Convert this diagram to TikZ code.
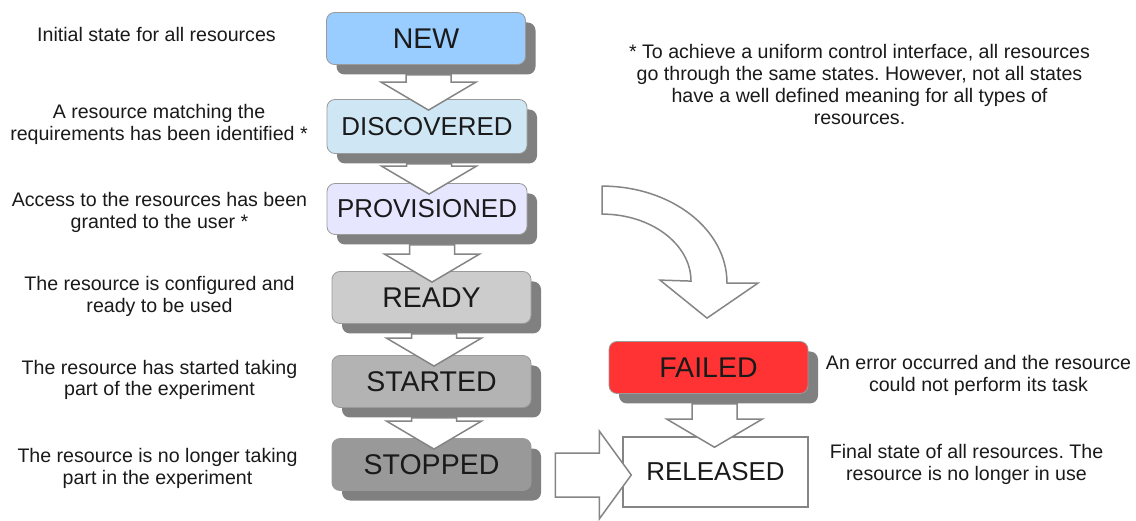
\documentclass[tikz,border=0pt]{standalone}
\usepackage{fontspec}
\setmainfont{Liberation Sans}
\usetikzlibrary{calc,shadows}
\frenchspacing
\definecolor{cNew}{HTML}{99CCFF}
\definecolor{cDisc}{HTML}{CFE7F5}
\definecolor{cProv}{HTML}{E6E6FF}
\definecolor{cReady}{HTML}{CCCCCC}
\definecolor{cStarted}{HTML}{B3B3B3}
\definecolor{cStopped}{HTML}{999999}
\definecolor{cFailed}{HTML}{FF3333}
\definecolor{cShadow}{HTML}{808080}
\definecolor{cBorder}{HTML}{9A9A9A}
\definecolor{cArrow}{HTML}{858585}
\definecolor{cText}{HTML}{1A1A1A}
\newcommand\blockdown[3]{%
  \coordinate (bt) at ($(#2.south)+(#1,10)$);
  \coordinate (bp) at ($(#3.north)+(#1,11)$);
  \coordinate (bq) at (bt|-bp);
  \draw[blockarrow] ($(bt)+(-22.5,0)$) -- ($(bt)+(22.5,0)$) -- ($(bq)+(22.5,-28)$) -- ($(bq)+(47.5,-28)$) -- (bq) -- ($(bq)+(-47.5,-28)$) -- ($(bq)+(-22.5,-28)$) -- cycle;
}
\begin{document}
\begin{tikzpicture}[x=1pt,y=-1pt,
  statebox/.style={draw=cBorder, line width=0.8pt, rounded corners=8pt,
    minimum width=199pt, minimum height=52pt, inner sep=0pt,
    font=\fontsize{28.5}{32}\selectfont, text=cText,
    drop shadow={shadow xshift=10pt, shadow yshift=-10pt, fill=cShadow, opacity=1}},
  smalllabel/.style={font=\fontsize{25.9}{30}\selectfont},
  sidetext/.style={align=center, inner sep=0pt, text=cText,
    font=\fontsize{19.6}{21.9}\selectfont\frenchspacing,
    execute at begin node=\strut, execute at end node=\strut},
  blockarrow/.style={draw=cArrow, fill=white, line width=1.5pt, line join=miter}]
\useasboundingbox (0,0) rectangle (1136,521);
\fill[white] (0,0) rectangle (1136,521);

% state boxes
\node[statebox, fill=cNew] (new) at (426,38.5) {NEW};
\node[statebox, smalllabel, fill=cDisc, minimum width=200pt, minimum height=54pt] (disc) at (427,126.5) {DISCOVERED};
\node[statebox, smalllabel, fill=cProv, minimum width=200pt, minimum height=51pt] (prov) at (427,209) {PROVISIONED};
\node[statebox, fill=cReady] (ready) at (431.5,297.5) {READY};
\node[statebox, fill=cStarted] (started) at (431.5,381.5) {STARTED};
\node[statebox, fill=cStopped] (stopped) at (431.5,464.5) {STOPPED};
\node[statebox, fill=cFailed] (failed) at (708.5,367.5) {FAILED};
\node[draw=cArrow, line width=1.5pt, fill=white, minimum width=185pt, minimum height=70pt,
  inner sep=0pt, text=cText, smalllabel] (released) at (715.5,472) {RELEASED};

% block arrows between states
\blockdown{2.5}{new}{disc}
\blockdown{2}{disc}{prov}
\blockdown{5}{prov}{ready}
\blockdown{2.5}{ready}{started}
\blockdown{2.5}{started}{stopped}
\blockdown{6}{failed}{released}

% big arrow STOPPED -> RELEASED
\coordinate (bs) at ($(stopped.east |- released.west)+(24,3)$);
\coordinate (be) at ($(released.west)+(9,3)$);
\draw[blockarrow] ($(bs)+(0,-22)$) -- ($(be)+(-32,-22)$) -- ($(be)+(-32,-44)$) -- (be)
  -- ($(be)+(-32,44)$) -- ($(be)+(-32,22)$) -- ($(bs)+(0,22)$) -- cycle;

% curved arrow towards FAILED
\coordinate (ct) at ($(failed.north)+(-1.5,-23)$);
\draw[blockarrow] ($(ct)+(-105,-132)$)
  .. controls ($(ct)+(-36,-132)$) and ($(ct)+(20,-89)$) .. ($(ct)+(20,-35)$)
  -- ($(ct)+(51,-35)$) -- (ct) -- ($(ct)+(-47,-38)$) -- ($(ct)+(-16,-37)$)
  .. controls ($(ct)+(-16,-74)$) and ($(ct)+(-56,-104)$) .. ($(ct)+(-105,-104)$)
  -- cycle;

% descriptions
\node[sidetext] (tnew) at (156.5,36.7) {Initial state for all resources};
\node[sidetext] (tdisc) at (159,125.8) {A resource matching the\\requirements has been identified *};
\node[sidetext] (tprov) at (159.5,213.7) {Access to the resources has been\\granted to the user *};
\node[sidetext] (tready) at (159.5,297.3) {The resource is configured and\\ready to be used};
\node[sidetext] (tstarted) at (159.5,381.2) {The resource has started taking\\part of the experiment};
\node[sidetext] (tstopped) at (157.5,469.9) {The resource is no longer taking\\part in the experiment};
\node[sidetext] (tnote) at (859.5,87.9) {* To achieve a uniform control interface, all resources\\go through the same states. However, not all states\\have a well defined meaning for all types of\\resources.};
\node[sidetext] (tfailed) at (978.5,376.5) {An error occurred and the resource\\could not perform its task};
\node[sidetext] (treleased) at (966.5,465.7) {Final state of all resources. The\\resource is no longer in use};
\end{tikzpicture}
\end{document}
